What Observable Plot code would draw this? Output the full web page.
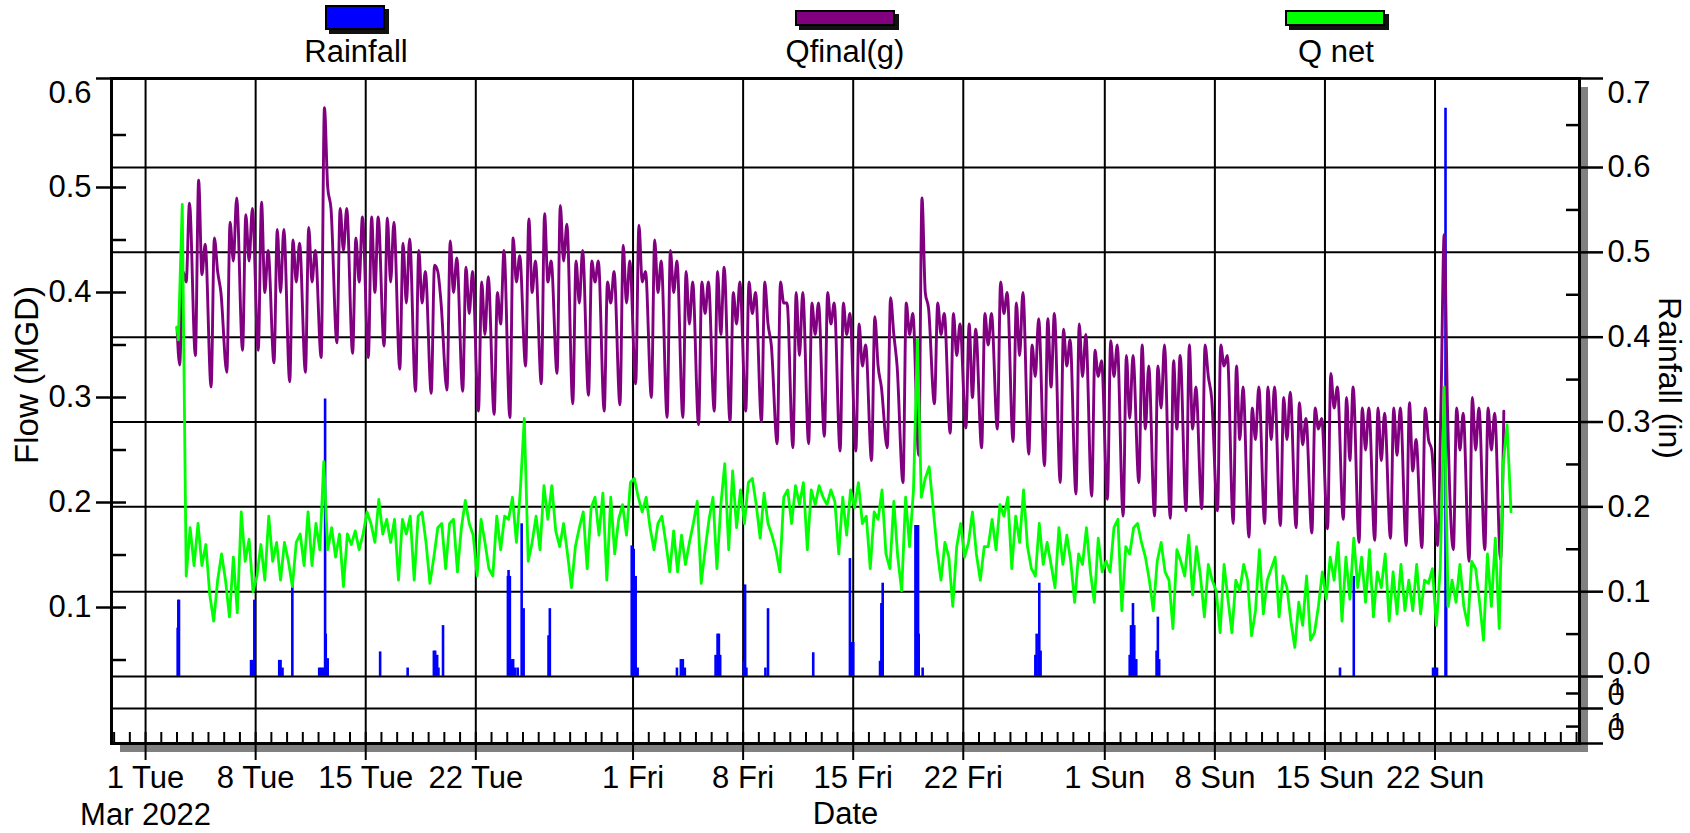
<!DOCTYPE html>
<html>
<head>
<meta charset="utf-8">
<script src="https://cdn.jsdelivr.net/npm/d3@7"></script>
<script src="https://cdn.jsdelivr.net/npm/@observablehq/plot@0.6"></script>
<style>
  html, body { margin: 0; padding: 0; background: #fff; }
  #wrap { position: relative; width: 1690px; height: 833px; overflow: hidden;
          font-family: "Liberation Sans", Arial, sans-serif; color: #000; }
  #shadow { position: absolute; left: 120px; top: 87px; width: 1468px; height: 665px; background: #808080; }
  #chart { position: absolute; left: 0; top: 0; }
  .sw { position: absolute; box-sizing: border-box; border: 2px solid #000; box-shadow: 4px 4px 0 #111; }
  .lab { position: absolute; width: 300px; text-align: center; font-size: 31px; line-height: 34px; }
</style>
</head>
<body>
<div id="wrap">
  <div id="shadow"></div>
  <div id="chart"></div>
  <div id="legend"></div>
</div>
<script>
// ---------------- DATA ----------------
// Flow series start at 2022-03-03 00:00 (UTC), one entry per day (k = 0 .. )
const flowStartDay = [2022, 2, 3];
const qStart = 0.367;
// Qfinal(g): nightly low (~04h), morning peak (~09h), midday (~14h), evening (~19h), MGD
const qLow = [0.331,0.340,0.310,0.324,0.345,0.345,0.333,0.315,0.324,0.338,
  0.352,0.342,0.338,0.349,0.327,0.306,0.304,0.307,0.306,0.287,
  0.284,0.281,0.330,0.313,0.323,0.294,0.302,0.287,0.293,0.313,
  0.300,0.281,0.281,0.274,0.287,0.277,0.287,0.277,0.256,0.252,
  0.256,0.263,0.249,0.249,0.240,0.252,0.219,0.245,0.294,0.266,
  0.271,0.252,0.270,0.258,0.246,0.235,0.219,0.208,0.206,0.203,
  0.187,0.219,0.187,0.185,0.192,0.194,0.192,0.180,0.167,0.180,
  0.178,0.176,0.171,0.175,0.184,0.162,0.164,0.166,0.159,0.157,
  0.159,0.155,0.144,0.155,0.146];
const qAm = [0.420,0.507,0.452,0.467,0.474,0.486,0.460,0.450,0.462,0.576,
  0.480,0.452,0.472,0.471,0.447,0.440,0.426,0.449,0.424,0.410,
  0.400,0.452,0.470,0.475,0.483,0.430,0.430,0.410,0.445,0.464,
  0.450,0.440,0.420,0.410,0.420,0.400,0.410,0.410,0.410,0.400,
  0.390,0.400,0.390,0.370,0.377,0.395,0.390,0.490,0.390,0.380,
  0.370,0.380,0.410,0.390,0.350,0.375,0.365,0.370,0.345,0.354,
  0.340,0.350,0.330,0.335,0.350,0.350,0.350,0.330,0.290,0.310,
  0.300,0.295,0.290,0.323,0.300,0.290,0.290,0.290,0.295,0.290,
  0.290,0.290,0.300,0.290,0.287];
const qMid = [0.410,0.417,0.420,0.430,0.430,0.400,0.400,0.410,0.410,0.500,
  0.440,0.410,0.400,0.410,0.390,0.390,0.420,0.400,0.380,0.360,
  0.370,0.410,0.400,0.410,0.430,0.390,0.410,0.390,0.390,0.410,
  0.400,0.400,0.370,0.380,0.360,0.370,0.380,0.370,0.390,0.340,
  0.360,0.370,0.360,0.330,0.330,0.360,0.360,0.400,0.360,0.340,
  0.300,0.350,0.380,0.340,0.320,0.310,0.330,0.320,0.320,0.320,
  0.280,0.270,0.290,0.270,0.270,0.320,0.330,0.260,0.260,0.260,
  0.260,0.255,0.270,0.290,0.240,0.250,0.240,0.245,0.230,0.260,
  0.455,0.250,0.250,0.250];
const qPm = [0.485,0.446,0.400,0.490,0.480,0.440,0.460,0.447,0.440,0.480,
  0.480,0.472,0.472,0.467,0.451,0.420,0.390,0.433,0.420,0.415,
  0.440,0.435,0.430,0.430,0.465,0.440,0.430,0.420,0.430,0.420,
  0.430,0.430,0.410,0.410,0.424,0.410,0.400,0.350,0.390,0.400,
  0.390,0.390,0.380,0.350,0.310,0.330,0.380,0.385,0.380,0.370,
  0.365,0.380,0.400,0.400,0.375,0.380,0.355,0.360,0.335,0.350,
  0.340,0.330,0.350,0.340,0.310,0.300,0.340,0.310,0.310,0.310,
  0.305,0.280,0.280,0.310,0.310,0.290,0.285,0.290,0.260,0.250,
  0.290,0.285,0.290,0.285];
// Q net: four readings per day (~02h, 08h, 14h, 20h), MGD
const qNet = [
  0.355,0.484,0.130,0.176, 0.140,0.180,0.140,0.160, 0.112,0.087,0.126,0.151, 0.126,0.091,0.148,0.095,
  0.191,0.144,0.165,0.115, 0.130,0.160,0.126,0.187, 0.144,0.162,0.126,0.162, 0.144,0.120,0.162,0.170,
  0.140,0.191,0.140,0.180, 0.155,0.239,0.155,0.176, 0.148,0.170,0.120,0.170, 0.160,0.173,0.155,0.170,
  0.191,0.180,0.162,0.203, 0.170,0.184,0.162,0.184, 0.126,0.184,0.170,0.187, 0.126,0.187,0.191,0.162,
  0.123,0.148,0.176,0.180, 0.137,0.180,0.184,0.134, 0.176,0.202,0.180,0.169, 0.130,0.184,0.162,0.137,
  0.130,0.187,0.155,0.187, 0.184,0.205,0.162,0.212, 0.280,0.144,0.162,0.187, 0.155,0.216,0.184,0.216,
  0.173,0.158,0.180,0.151, 0.119,0.158,0.176,0.191, 0.137,0.195,0.205,0.169, 0.209,0.126,0.205,0.151,
  0.184,0.198,0.169,0.219, 0.223,0.205,0.191,0.205, 0.176,0.155,0.180,0.187, 0.162,0.134,0.173,0.134,
  0.169,0.141,0.162,0.180, 0.201,0.123,0.155,0.184, 0.205,0.137,0.198,0.237, 0.155,0.230,0.176,0.212,
  0.180,0.219,0.223,0.198, 0.166,0.209,0.180,0.169, 0.155,0.134,0.205,0.212, 0.180,0.216,0.198,0.219,
  0.155,0.212,0.198,0.216, 0.205,0.198,0.212,0.201, 0.151,0.205,0.169,0.212, 0.195,0.219,0.180,0.187,
  0.137,0.191,0.184,0.212, 0.151,0.137,0.201,0.148, 0.116,0.205,0.158,0.212, 0.355,0.205,0.223,0.234,
  0.195,0.155,0.126,0.162, 0.148,0.101,0.158,0.180, 0.148,0.162,0.191,0.151, 0.126,0.158,0.158,0.184,
  0.155,0.198,0.187,0.205, 0.137,0.187,0.162,0.212, 0.158,0.137,0.130,0.180, 0.141,0.162,0.141,0.119,
  0.176,0.141,0.169,0.144, 0.105,0.151,0.141,0.176, 0.134,0.105,0.166,0.134, 0.144,0.134,0.176,0.184,
  0.097,0.158,0.151,0.176, 0.180,0.162,0.148,0.126, 0.097,0.144,0.162,0.134, 0.126,0.080,0.155,0.144,
  0.130,0.169,0.112,0.158, 0.130,0.091,0.141,0.126, 0.116,0.076,0.141,0.108, 0.076,0.126,0.116,0.141,
  0.126,0.073,0.097,0.155, 0.094,0.126,0.137,0.148, 0.091,0.130,0.119,0.087, 0.062,0.105,0.083,0.130,
  0.069,0.076,0.101,0.134, 0.108,0.148,0.126,0.162, 0.087,0.148,0.108,0.166, 0.119,0.148,0.105,0.155,
  0.091,0.134,0.119,0.151, 0.087,0.134,0.094,0.141, 0.097,0.126,0.097,0.141, 0.094,0.126,0.123,0.137,
  0.083,0.137,0.310,0.101, 0.126,0.105,0.141,0.101, 0.083,0.144,0.137,0.105, 0.069,0.151,0.101,0.166,
  0.080,0.237,0.274,0.191];
// Rainfall, hourly totals (in)
const rainTime = ["2022-03-03T01","2022-03-03T02","2022-03-03T03","2022-03-07T17","2022-03-07T19","2022-03-07T22",
  "2022-03-09T12","2022-03-09T14","2022-03-09T17","2022-03-10T08","2022-03-12T01","2022-03-12T04","2022-03-12T07",
  "2022-03-12T10","2022-03-12T11","2022-03-12T12","2022-03-12T14","2022-03-15T22","2022-03-17T16","2022-03-19T08",
  "2022-03-19T10","2022-03-19T13","2022-03-19T15","2022-03-19T22","2022-03-24T01","2022-03-24T02","2022-03-24T04",
  "2022-03-24T06","2022-03-24T09","2022-03-24T12","2022-03-24T16","2022-03-24T22","2022-03-25T01","2022-03-26T15",
  "2022-03-26T17","2022-03-31T22","2022-04-01T01","2022-04-01T04","2022-04-01T07","2022-04-03T19","2022-04-04T01",
  "2022-04-04T04","2022-04-04T07","2022-04-06T06","2022-04-06T09","2022-04-06T11","2022-04-06T13","2022-04-08T01",
  "2022-04-08T03","2022-04-08T05","2022-04-09T10","2022-04-09T14","2022-04-12T11","2022-04-14T19","2022-04-14T22",
  "2022-04-15T00","2022-04-16T17","2022-04-16T19","2022-04-16T21","2022-04-18T23","2022-04-19T01","2022-04-19T03",
  "2022-04-19T04","2022-04-19T10","2022-04-26T14","2022-04-26T16","2022-04-26T20","2022-04-26T22","2022-05-02T14",
  "2022-05-02T16","2022-05-02T19","2022-05-02T21","2022-05-03T00","2022-05-04T07","2022-05-04T09","2022-05-04T11",
  "2022-05-15T23","2022-05-16T20","2022-05-21T21","2022-05-22T00","2022-05-22T03","2022-05-22T16","2022-05-22T17"];
const rainIn = [0.057,0.090,0.090,0.019,0.019,0.090,
  0.019,0.019,0.010,0.115,0.010,0.010,0.010,
  0.327,0.050,0.021,0.021,0.029,0.010,0.030,
  0.030,0.025,0.010,0.060,0.118,0.125,0.118,
  0.020,0.020,0.010,0.010,0.180,0.080,0.048,
  0.080,0.154,0.150,0.118,0.010,0.010,0.020,
  0.020,0.010,0.025,0.050,0.050,0.025,0.018,
  0.108,0.010,0.010,0.080,0.028,0.139,0.040,
  0.040,0.018,0.086,0.110,0.178,0.178,0.178,
  0.050,0.010,0.025,0.050,0.110,0.030,0.025,
  0.060,0.086,0.060,0.020,0.030,0.070,0.020,
  0.010,0.118,0.010,0.010,0.010,0.670,0.081];
// Axis ticks
const gridDates = ["2022-03-01","2022-03-08","2022-03-15","2022-03-22","2022-04-01","2022-04-08",
  "2022-04-15","2022-04-22","2022-05-01","2022-05-08","2022-05-15","2022-05-22"];
const flowTicks = [0.1, 0.2, 0.3, 0.4, 0.5];
const flowMinor = [0.05, 0.15, 0.25, 0.35, 0.45, 0.55];
const rainTicks = [0.1, 0.2, 0.3, 0.4, 0.5, 0.6];
const rainMinor = [-0.059, -0.02, 0.05, 0.15, 0.25, 0.35, 0.45, 0.55, 0.65];
const rainExtraGrid = -0.0377;

// ---------------- SCALES ----------------
const flowDomain = [-0.0295, 0.6038];
const xDomain = [new Date(Date.UTC(2022, 1, 26, 20)), new Date(Date.UTC(2022, 4, 31, 4, 30))];
const rainToFlow = r => 0.034286 + 0.80790 * r;      // right axis (in) -> left axis units
const flowToRain = f => (f - 0.034286) / 0.80790;

const dayTime = (k, h) => new Date(Date.UTC(flowStartDay[0], flowStartDay[1], flowStartDay[2] + k, h));

const qfinal = [{t: dayTime(0, 0), v: qStart}];
qLow.forEach((lo, k) => {
  qfinal.push({t: dayTime(k, 4), v: lo});
  qfinal.push({t: dayTime(k, 9), v: qAm[k]});
  if (k < qMid.length) {
    qfinal.push({t: dayTime(k, 14), v: qMid[k]});
    qfinal.push({t: dayTime(k, 19), v: qPm[k]});
  }
});
const qnet = [{t: dayTime(0, 0), v: qStart}];
qNet.forEach((v, i) => qnet.push({t: dayTime(Math.floor(i / 4), 2 + 6 * (i % 4)), v}));
const rain = rainTime.map((t, i) => ({t: new Date(t + ":00Z"), r: rainIn[i]}));
const grid = gridDates.map(d => new Date(d + "T00:00Z"));
const days = d3.utcDay.range(d3.utcDay.ceil(xDomain[0]), xDomain[1]);

const fmtDay = d3.utcFormat("%-d %a");
const xLabel = (d, i) => i === 0 ? fmtDay(d) + "\n" + d3.utcFormat("%b %Y")(d) : fmtDay(d);

const FS = 31;
const chart = Plot.plot({
  width: 1690, height: 833,
  marginTop: 78, marginBottom: 90, marginLeft: 111, marginRight: 111,
  x: {type: "utc", domain: xDomain, label: null},
  y: {domain: flowDomain, label: null},
  style: {fontFamily: "'Liberation Sans', Arial, sans-serif", fontSize: FS + "px", color: "#000", background: "transparent", overflow: "visible"},
  marks: [
    Plot.frame({fill: "white", stroke: null}),
    Plot.ruleY([rainExtraGrid, 0, ...rainTicks].map(rainToFlow), {stroke: "#000", strokeWidth: 2}),
    Plot.ruleX(grid, {stroke: "#000", strokeWidth: 2}),
    Plot.ruleX(rain, {x: "t", y1: rainToFlow(0), y2: d => rainToFlow(d.r), stroke: "#0000ff", strokeWidth: 2.6}),
    Plot.line(qfinal, {x: "t", y: "v", stroke: "#800080", strokeWidth: 2.9, curve: "monotone-x"}),
    Plot.line(qnet, {x: "t", y: "v", stroke: "#00ff00", strokeWidth: 2.8, curve: "linear"}),
    Plot.frame({stroke: "#000", strokeWidth: 3}),
    // bottom axis
    Plot.axisX(grid, {tickSize: 17, tickPadding: 2, strokeWidth: 2, tickFormat: xLabel, fontSize: FS, lineHeight: 1.17, label: null}),
    Plot.axisX(days, {tickSize: 11, dy: -11, strokeWidth: 2, fill: "none", label: null}),
    Plot.text(["Date"], {frameAnchor: "bottom", textAnchor: "middle", lineAnchor: "middle", dy: 71, fontSize: FS}),
    // left axis (Flow)
    Plot.axisY(flowTicks, {anchor: "left", tickSize: 30, dx: 15, tickPadding: 5, strokeWidth: 2.5, fontSize: FS, tickFormat: d3.format(".1f"), label: null}),
    Plot.axisY([flowDomain[1]], {anchor: "left", tickSize: 30, dx: 15, strokeWidth: 2.5, fill: "none", label: null}),
    Plot.axisY([0.6], {anchor: "left", tickSize: 0, tickPadding: 20, dy: 11, fontSize: FS, tickFormat: d3.format(".1f"), label: null}),
    Plot.axisY(flowMinor, {anchor: "left", tickSize: 15, dx: 15, strokeWidth: 2.5, fill: "none", label: null}),
    Plot.text(["Flow (MGD)"], {frameAnchor: "left", textAnchor: "middle", lineAnchor: "middle", dx: -84, dy: -36, rotate: -90, fontSize: 33}),
    // right axis (Rainfall)
    Plot.axisY(rainTicks.map(rainToFlow), {anchor: "right", tickSize: 23, tickPadding: 5, strokeWidth: 2.5, fontSize: FS, tickFormat: d => flowToRain(d).toFixed(1), label: null}),
    Plot.axisY([flowDomain[1], rainToFlow(0), rainToFlow(rainExtraGrid), flowDomain[0]], {anchor: "right", tickSize: 23, strokeWidth: 2.5, fill: "none", label: null}),
    Plot.axisY([rainToFlow(0.7)], {anchor: "right", tickSize: 0, tickPadding: 28, dy: 10, fontSize: FS, tickFormat: d => flowToRain(d).toFixed(1), label: null}),
    Plot.axisY([rainToFlow(0)], {anchor: "right", tickSize: 0, tickPadding: 28, dy: -12, fontSize: FS, tickFormat: d => Math.abs(flowToRain(d)).toFixed(1), label: null}),
    Plot.axisY([rainToFlow(rainExtraGrid), flowDomain[0]], {anchor: "right", tickSize: 0, tickPadding: 28, dy: -13, fontSize: FS, tickFormat: () => "0", label: null}),
    Plot.axisY([rainToFlow(rainExtraGrid), flowDomain[0]], {anchor: "right", tickSize: 0, tickPadding: 31, dy: -21, fontSize: 24, tickFormat: () => "1", label: null}),
    Plot.axisY(rainMinor.map(rainToFlow), {anchor: "right", tickSize: 14, dx: -14, strokeWidth: 2.5, fill: "none", label: null}),
    Plot.text(["Rainfall (in)"], {frameAnchor: "right", textAnchor: "middle", lineAnchor: "middle", dx: 90, dy: -33, rotate: 90, fontSize: 32})
  ]
});
document.getElementById("chart").appendChild(chart);

// ---------------- LEGEND ----------------
const legendNames = ["Rainfall", "Qfinal(g)", "Q net"];
const legendColors = ["#0000ff", "#800080", "#00ff00"];
const legendBox = [[325, 5, 60, 25], [795, 10, 100, 16], [1285, 10, 100, 16]];
const legendCenter = [356, 845, 1336];
const lg = document.getElementById("legend");
legendNames.forEach((name, i) => {
  const [l, t, w, h] = legendBox[i];
  const sw = document.createElement("div");
  sw.className = "sw";
  Object.assign(sw.style, {left: l + "px", top: t + "px", width: w + "px", height: h + "px", background: legendColors[i]});
  lg.appendChild(sw);
  const lab = document.createElement("div");
  lab.className = "lab";
  lab.textContent = name;
  Object.assign(lab.style, {left: (legendCenter[i] - 150) + "px", top: "35px"});
  lg.appendChild(lab);
});
</script>
</body>
</html>
